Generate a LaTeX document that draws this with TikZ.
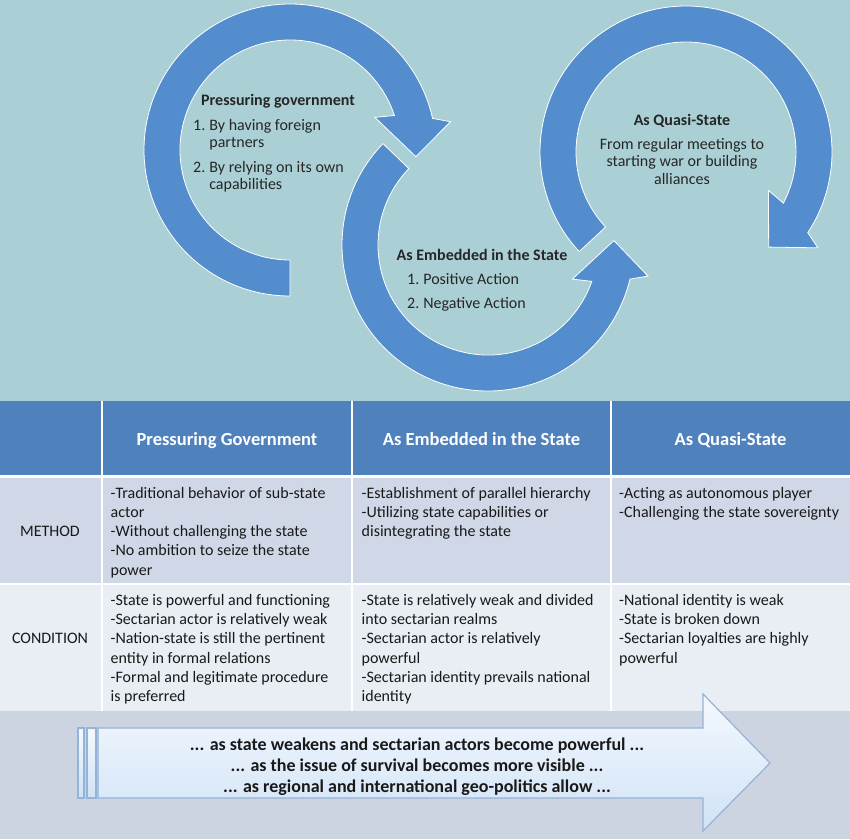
\documentclass[tikz,border=0pt]{standalone}
\usepackage{fontspec}
\setmainfont{Carlito}
\usepackage{tikz}

\definecolor{topbg}{RGB}{170,208,214}
\definecolor{ringblue}{RGB}{84,141,205}
\definecolor{hdrblue}{RGB}{79,129,189}
\definecolor{rowa}{RGB}{208,216,232}
\definecolor{rowb}{RGB}{233,237,244}
\definecolor{bottombg}{RGB}{205,212,225}
\definecolor{arrowline}{RGB}{149,179,215}
\definecolor{arrowtop}{RGB}{244,249,254}
\definecolor{arrowbot}{RGB}{208,226,246}

\begin{document}
\begin{tikzpicture}[x=1pt, y=-1pt,
        ring/.style={fill=ringblue, draw=white, line width=0.8pt},
        ringtitle/.style={font=\fontsize{16}{18}\selectfont\bfseries, text=black!85, inner sep=0pt, anchor=base},
        ringlist/.style={font=\fontsize{16}{17}\selectfont, text=black!85, inner sep=0pt, anchor=north west},
        headtext/.style={font=\fontsize{18.5}{22}\selectfont\bfseries, text=white, inner sep=0pt, anchor=base},
        rowlabel/.style={font=\fontsize{16}{19}\selectfont, text=black!90, inner sep=0pt, anchor=base},
        cell/.style={font=\fontsize{16}{19.25}\selectfont, text=black!90, inner sep=0pt, anchor=north west, align=left},
        sep/.style={draw=white, line width=1.5pt},
        bigarrow/.style={top color=arrowtop, bottom color=arrowbot, draw=arrowline, line width=1.2pt},
        arrowtext/.style={font=\fontsize{18}{21}\selectfont\bfseries, text=black!90, inner sep=0pt, anchor=north, align=center}]
    \useasboundingbox (0,0) rectangle (850,839);

    % backgrounds
    \fill[topbg] (0,0) rectangle (850,401);
    \fill[hdrblue] (0,401) rectangle (850,476);
    \fill[rowa] (0,476) rectangle (850,584);
    \fill[rowb] (0,584) rectangle (850,711);
    \fill[bottombg] (0,711) rectangle (850,839);
    \draw[sep, line width=2.5pt] (0,476.5) -- (850,476.5);
    \draw[sep] (0,584) -- (850,584);
    \foreach \x in {102,352,611}
        \draw[sep] (\x,401) -- (\x,711);

    % circular arrows
    \path[ring, shift={(290,150)}] (90:146) arc[start angle=90, end angle=347.5, radius=146]
        -- (350:163) -- (363:126) -- (339:91) -- (341.7:110)
        arc[start angle=341.7, end angle=90, radius=110] -- cycle;
    \path[ring, shift={(488,245)}] (224:146) arc[start angle=224, end angle=13.5, radius=146]
        -- (11:163) -- (-2:126) -- (22:91) -- (19.3:110)
        arc[start angle=19.3, end angle=224, radius=110] -- cycle;
    \path[ring, shift={(686,152)}] (137:146) arc[start angle=137, end angle=393.5, radius=146]
        -- (396:163) -- (409:126) -- (385:91) -- (387.7:110)
        arc[start angle=387.7, end angle=137, radius=110] -- cycle;

    % texts inside the circles
    \node[ringtitle] (pgtitle) at (278,105) {Pressuring government};
    \node[ringlist] (pglist) at (193,118) {\begin{tabular}{@{}l@{\hspace{4pt}}l@{}}1.&By having foreign\\&partners\\[8pt]2.&By relying on its own\\&capabilities\end{tabular}};
    \node[ringtitle] (embtitle) at (482,260) {As Embedded in the State};
    \node[ringlist] (emblist) at (407,272.4) {\begin{tabular}{@{}l@{\hspace{4pt}}l@{}}1.&Positive Action\\[7pt]2.&Negative Action\end{tabular}};
    \node[ringtitle] (qstitle) at (682,125) {As Quasi-State};
    \node[ringlist, anchor=north, align=center, font=\fontsize{16}{17.5}\selectfont] (qstext) at (682,137) {\strut From regular meetings to\\starting war or building\\alliances};

    % table
    \node[headtext] (hpg) at (227,445.5) {Pressuring Government};
    \node[headtext] (hemb) at (481.5,445.5) {As Embedded in the State};
    \node[headtext] (hqs) at (730.5,445.5) {As Quasi-State};
    \node[rowlabel] (method) at (50,536.5) {METHOD};
    \node[rowlabel] (condition) at (50,643) {CONDITION};

    \node[cell] (methodpg) at (110.5,484.5) {\strut -Traditional behavior of sub-state\\actor\\-Without challenging the state\\-No ambition to seize the state\\power};
    \node[cell] (methodemb) at (361.5,484.5) {\strut -Establishment of parallel hierarchy\\-Utilizing state capabilities or\\disintegrating the state};
    \node[cell] (methodqs) at (619,484.5) {\strut -Acting as autonomous player\\-Challenging the state sovereignty};
    \node[cell] (condpg) at (110.5,591.8) {\strut -State is powerful and functioning\\-Sectarian actor is relatively weak\\-Nation-state is still the pertinent\\entity in formal relations\\-Formal and legitimate procedure\\is preferred};
    \node[cell] (condemb) at (361.5,591.8) {\strut -State is relatively weak and divided\\into sectarian realms\\-Sectarian actor is relatively\\powerful\\-Sectarian identity prevails national\\identity};
    \node[cell] (condqs) at (619,591.8) {\strut -National identity is weak\\-State is broken down\\-Sectarian loyalties are highly\\powerful};

    % trend arrow
    \path[bigarrow] (98,728) -- (703,728) -- (703,694) -- (770,763) -- (703,831) -- (703,798) -- (98,798) -- cycle;
    \path[bigarrow] (78,728) rectangle (84,798);
    \path[bigarrow] (87,728) rectangle (96,798);
    \node[arrowtext] (trend) at (417,735.3) {\strut ... as state weakens and sectarian actors become powerful ...\\... as the issue of survival becomes more visible ...\\... as regional and international geo-politics allow ...};
\end{tikzpicture}
\end{document}
